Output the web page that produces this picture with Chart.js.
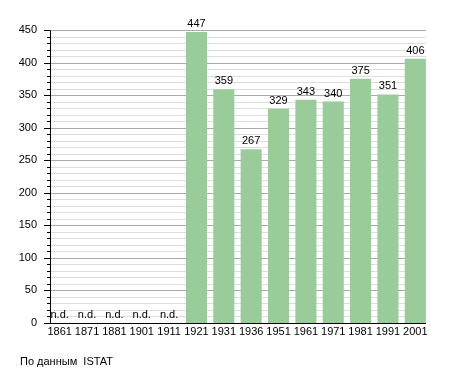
<!DOCTYPE html>
<html>
<head>
<meta charset="utf-8">
<script src="https://cdn.jsdelivr.net/npm/chart.js@4/dist/chart.umd.min.js"></script>
<style>
  body { margin: 0; background: #fff; }
  #wrap { position: relative; width: 455px; height: 373px; }
  #note { position: absolute; left: 20px; top: 355px; font: 11px "Liberation Sans", Arial, sans-serif; color: #000; white-space: pre; }
</style>
</head>
<body>
<div id="wrap">
  <canvas id="chart" width="455" height="373"></canvas>
  <div id="note">По данным  ISTAT</div>
</div>
<script>
const years = ["1861","1871","1881","1901","1911","1921","1931","1936","1951","1961","1971","1981","1991","2001"];
const population = [null, null, null, null, null, 447, 359, 267, 329, 343, 340, 375, 351, 406];
const yMax = 450;
const yStep = 50;
const yMinorStep = 10;

const AXIS_X = 50, AXIS_RIGHT = 426;
const FONT = '11px "Liberation Sans", Arial, sans-serif';

// grid, axes, ticks and value labels
const decor = {
  id: "decor",
  beforeDatasetsDraw(chart) {
    const ctx = chart.ctx, y = chart.scales.y;
    ctx.save();
    for (let v = 0; v <= yMax; v += yMinorStep) {
      const py = Math.round(y.getPixelForValue(v)) + 0.5;
      ctx.strokeStyle = v % yStep === 0 ? "#aaaaaa" : "#dddddd";
      ctx.lineWidth = 1;
      ctx.beginPath();
      ctx.moveTo(AXIS_X, py);
      ctx.lineTo(AXIS_RIGHT, py);
      ctx.stroke();
    }
    ctx.restore();
  },
  afterDatasetsDraw(chart) {
    const ctx = chart.ctx, x = chart.scales.x, y = chart.scales.y;
    ctx.save();
    ctx.strokeStyle = "#000";
    ctx.lineWidth = 1;
    const bottom = Math.round(y.getPixelForValue(0)) + 0.5;
    const top = Math.round(y.getPixelForValue(yMax)) + 0.5;
    ctx.beginPath();
    ctx.moveTo(AXIS_X + 0.5, top);
    ctx.lineTo(AXIS_X + 0.5, bottom);
    ctx.moveTo(AXIS_X, bottom);
    ctx.lineTo(AXIS_RIGHT, bottom);
    for (let v = 0; v <= yMax; v += yMinorStep) {
      const py = Math.round(y.getPixelForValue(v)) + 0.5;
      const len = v % yStep === 0 ? 6 : 3;
      ctx.moveTo(AXIS_X - len, py);
      ctx.lineTo(AXIS_X, py);
    }
    ctx.stroke();

    ctx.fillStyle = "#000";
    ctx.font = FONT;
    ctx.textAlign = "center";
    ctx.textBaseline = "alphabetic";
    const meta = chart.getDatasetMeta(0);
    population.forEach((v, i) => {
      const bar = meta.data[i];
      const cx = x.getPixelForValue(i);
      if (v === null) {
        ctx.fillText("n.d.", cx, y.getPixelForValue(0) - 5);
      } else {
        ctx.fillText(String(v), bar.x, bar.y - 5);
      }
    });
    ctx.restore();
  }
};

new Chart(document.getElementById("chart"), {
  type: "bar",
  data: {
    labels: years,
    datasets: [{
      data: population,
      backgroundColor: "#99cc99",
      borderWidth: 0,
      categoryPercentage: 1,
      barPercentage: 0.77
    }]
  },
  options: {
    responsive: false,
    animation: false,
    layout: { padding: { top: 30, right: 26, left: 0, bottom: 0 } },
    plugins: { legend: { display: false }, tooltip: { enabled: false } },
    scales: {
      x: {
        offset: true,
        grid: { display: false, drawTicks: false },
        border: { display: false },
        ticks: { color: "#000", font: { family: '"Liberation Sans", Arial, sans-serif', size: 11 }, padding: 2, maxRotation: 0, autoSkip: false },
        afterFit(scale) { scale.height = 50; }
      },
      y: {
        min: 0,
        max: yMax,
        grid: { display: false, drawTicks: false },
        border: { display: false },
        ticks: { stepSize: yStep, color: "#000", padding: 9, font: { family: '"Liberation Sans", Arial, sans-serif', size: 11 } },
        afterFit(scale) { scale.width = 46; }
      }
    }
  },
  plugins: [decor]
});
</script>
</body>
</html>
